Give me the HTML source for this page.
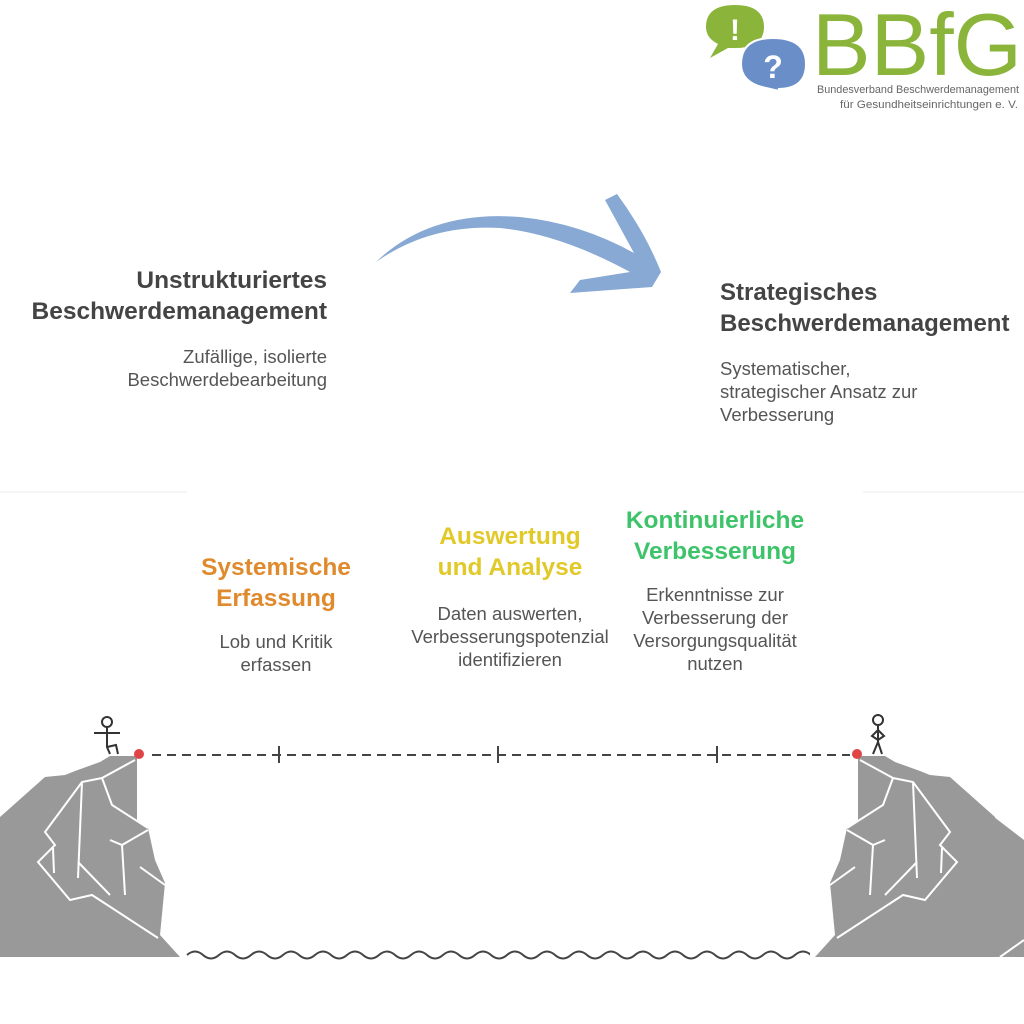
<!DOCTYPE html>
<html><head><meta charset="utf-8"><style>
body{margin:0;width:1024px;height:1024px;background:#fff;position:relative;overflow:hidden;font-family:"Liberation Sans",sans-serif}
.t{position:absolute;font-weight:bold;color:#444;font-size:24.5px;line-height:31px}
.d{position:absolute;color:#555;font-size:18.5px;line-height:23px}
.c{text-align:center}
</style></head><body>
<svg width="1024" height="1024" style="position:absolute;left:0;top:0">
<line x1="0" y1="492" x2="187" y2="492" stroke="#eee"/>
<line x1="863" y1="492" x2="1024" y2="492" stroke="#eee"/>
<path d="M706,27 Q706,5 735,5 Q764,5 764,27 Q764,48 735,48 L728,48 L710,58 L718,44 Q706,38 706,27Z" fill="#8ab53a"/>
<text x="735" y="40" font-size="30" font-weight="bold" fill="#fff" text-anchor="middle" font-family="Liberation Sans">!</text>
<path d="M741,64 Q741,38 773,38 Q806,38 806,64 Q806,89 778,89 L792,94 L766,88 Q741,83 741,64Z" fill="#6a8fc8" stroke="#fff" stroke-width="2"/>
<text x="773" y="78" font-size="32" font-weight="bold" fill="#fff" text-anchor="middle" font-family="Liberation Sans">?</text>
<text x="812" y="75" font-size="88" fill="#8ab53a" font-family="Liberation Sans" textLength="210" lengthAdjust="spacingAndGlyphs">BBfG</text>
<text x="817" y="93" font-size="11" fill="#666" font-family="Liberation Sans" textLength="202" lengthAdjust="spacingAndGlyphs">Bundesverband Beschwerdemanagement</text>
<text x="840" y="108" font-size="11" fill="#666" font-family="Liberation Sans" textLength="178" lengthAdjust="spacingAndGlyphs">für Gesundheitseinrichtungen e. V.</text>
<path d="M376,262 Q430,210 520,217 Q580,223 634,253 L605,200 L617,194 Q645,232 661,272 L652,287 L570,293 L580,280 L630,272 Q560,234 500,228 Q430,224 376,262Z" fill="#87a9d3"/>
<line x1="152" y1="755" x2="850" y2="755" stroke="#444" stroke-width="2" stroke-dasharray="9,6"/>
<g stroke="#444" stroke-width="2"><line x1="279" y1="746" x2="279" y2="763"/><line x1="498" y1="746" x2="498" y2="763"/><line x1="717" y1="746" x2="717" y2="763"/></g>
<path d="M187,955 q8,-7 16,0 t16,0 t16,0 t16,0 t16,0 t16,0 t16,0 t16,0 t16,0 t16,0 t16,0 t16,0 t16,0 t16,0 t16,0 t16,0 t16,0 t16,0 t16,0 t16,0 t16,0 t16,0 t16,0 t16,0 t16,0 t16,0 t16,0 t16,0 t16,0 t16,0 t16,0 t16,0 t16,0 t16,0 t16,0 t16,0 t16,0 t16,0 t16,0" fill="none" stroke="#444" stroke-width="2"/>
<rect x="810" y="940" width="30" height="25" fill="#fff"/>
<g id="cl">
<path d="M0,817 L45,777 L65,775 L75,771 L100,762 L110,756 L137,756 L137,820 L148,828 L155,860 L165,883 L160,935 L180,957 L0,957Z" fill="#999"/>
<g stroke="#fff" stroke-width="2" fill="none">
<path d="M135,760 L102,778 L82,782 L45,832 L55,845 L38,862 L70,900 L92,895 L158,938"/>
<path d="M82,782 L78,878"/><path d="M102,778 L112,805 L148,828"/>
<path d="M148,830 L122,845 L110,840"/><path d="M122,845 L125,895"/>
<path d="M78,862 L110,895"/><path d="M53,848 L54,873"/><path d="M140,867 L165,885"/>
</g>
</g>
<use href="#cl" transform="translate(995,0) scale(-1,1)"/>
<path d="M994,817 L1024,840 L1024,957 L994,957Z" fill="#999"/>
<path d="M1024,940 L1000,957" stroke="#fff" stroke-width="2"/>
<circle cx="139" cy="754" r="5" fill="#e04444"/><circle cx="857" cy="754" r="5" fill="#e04444"/>
<g stroke="#333" stroke-width="2" fill="none">
<circle cx="107" cy="722" r="5"/><path d="M107,727 L107,747 L110,754 M107,747 L116,745 L118,754 M94,733 L120,733"/>
<circle cx="878" cy="720" r="5"/><path d="M878,725 L878,742 L873,754 M878,742 L882,754 M878,730 L872,736 L878,740 M878,730 L884,736 L878,740"/>
</g>
</svg>
<div class="t" style="left:0;width:327px;top:265px;text-align:right">Unstrukturiertes<br>Beschwerdemanagement</div>
<div class="d" style="left:0;width:327px;top:345px;text-align:right">Zufällige, isolierte<br>Beschwerdebearbeitung</div>
<div class="t" style="left:720px;top:277px;font-size:24px">Strategisches<br>Beschwerdemanagement</div>
<div class="d" style="left:720px;top:357px">Systematischer,<br>strategischer Ansatz zur<br>Verbesserung</div>
<div class="t c" style="left:166px;width:220px;top:552px;color:#e08a2e">Systemische<br>Erfassung</div>
<div class="d c" style="left:166px;width:220px;top:630px">Lob und Kritik<br>erfassen</div>
<div class="t c" style="left:392px;width:236px;top:521px;color:#e2c92a">Auswertung<br>und Analyse</div>
<div class="d c" style="left:392px;width:236px;top:602px">Daten auswerten,<br>Verbesserungspotenzial<br>identifizieren</div>
<div class="t c" style="left:605px;width:220px;top:505px;color:#3ec36a">Kontinuierliche<br>Verbesserung</div>
<div class="d c" style="left:605px;width:220px;top:583px">Erkenntnisse zur<br>Verbesserung der<br>Versorgungsqualität<br>nutzen</div>
</body></html>
